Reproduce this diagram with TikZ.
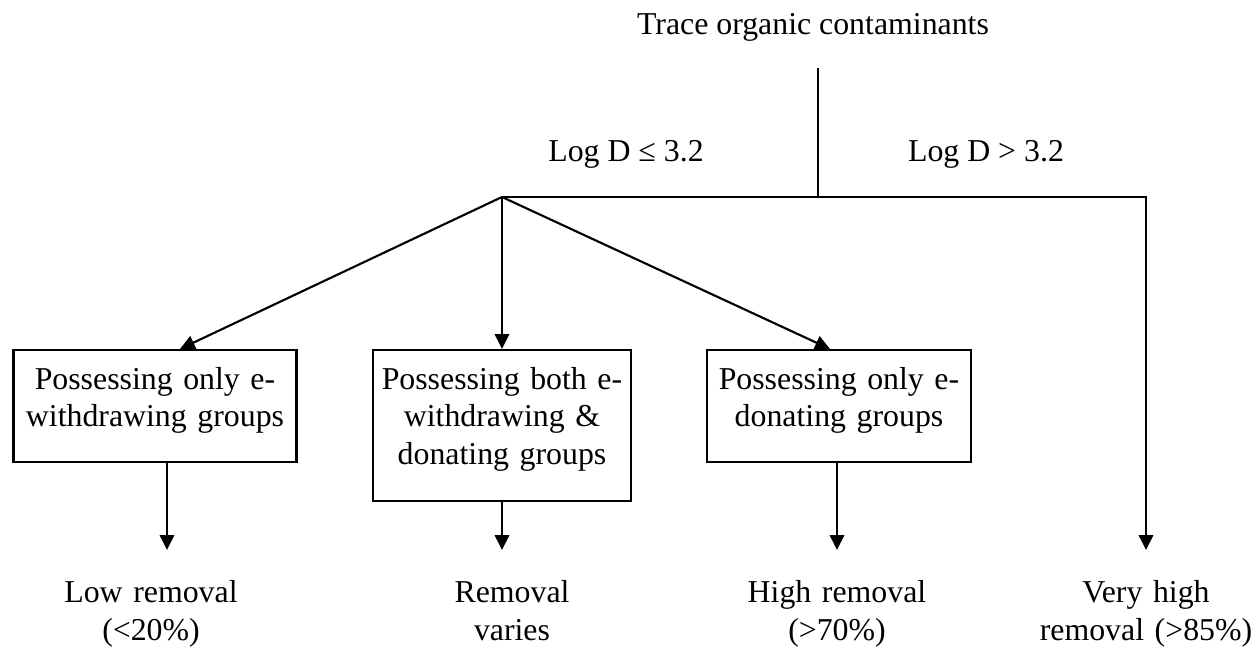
\documentclass[tikz,border=0pt]{standalone}
\usepackage{fontspec}
\setmainfont{Liberation Serif}
\usetikzlibrary{arrows.meta,calc}

\begin{document}
\begin{tikzpicture}[
    x = 0.377pt, y = -0.377pt, %
    > = {Triangle[length=5.6pt,width=5.4pt]}, %
    line width = 0.8pt, %
    font = \fontsize{12pt}{14.3pt}\selectfont
    ]

    \tikzset{group box/.style={
    draw = black,
    inner xsep = 0pt,
    inner ysep = 5.7pt,
    anchor = north,
    align = center,
    text height = 9pt
    }}
    \tikzset{outcome/.style={
    anchor = base,
    align = center,
    text width = 90pt
    }}

    \useasboundingbox (0,0) rectangle (1257,648);

    \node[anchor=base] (title) at (813,35) {Trace organic contaminants};
    \node[anchor=base] (low)  at (626,162) {Log D ≤ 3.2};
    \node[anchor=base] (high) at (986,162) {Log D > 3.2};

    \coordinate (stem) at (818,68);
    \coordinate (hub)  at (502,197);

    \node[group box, text width=106.7pt, text depth=21.8pt] (b1) at (155,349)
        {Possessing only e-\\withdrawing groups};
    \node[group box, text width=97.3pt, text depth=36.5pt] (b2) at (502,349)
        {Possessing both e-\\withdrawing \&\\donating groups};
    \node[group box, text width=99.5pt, text depth=21.8pt] (b3) at (839,349)
        {Possessing only e-\\donating groups};

    \node[outcome] (r1) at (151,603)  {Low removal\\(<20\%)};
    \node[outcome] (r2) at (512,603)  {Removal\\varies};
    \node[outcome] (r3) at (837,603)  {High removal\\(>70\%)};
    \node[outcome] (r4) at (1146,603) {Very high\\removal (>85\%)};

    \coordinate (e1) at (167,550);
    \coordinate (e2) at (502,550);
    \coordinate (e3) at (837,550);
    \coordinate (e4) at (1146,550);

    % split
    \draw (stem) -- (stem |- hub);
    \draw[->] (hub) -| (e4);
    \draw[->] (hub) -- ($(b1.north)+(25,0)$);
    \draw[->] (hub) -- (b2.north);
    \draw[->] (hub) -- ($(b3.north)+(-9,0)$);

    % outcomes
    \draw[->] (b1.south -| e1) -- (e1);
    \draw[->] (b2.south -| e2) -- (e2);
    \draw[->] (b3.south -| e3) -- (e3);

\end{tikzpicture}
\end{document}
